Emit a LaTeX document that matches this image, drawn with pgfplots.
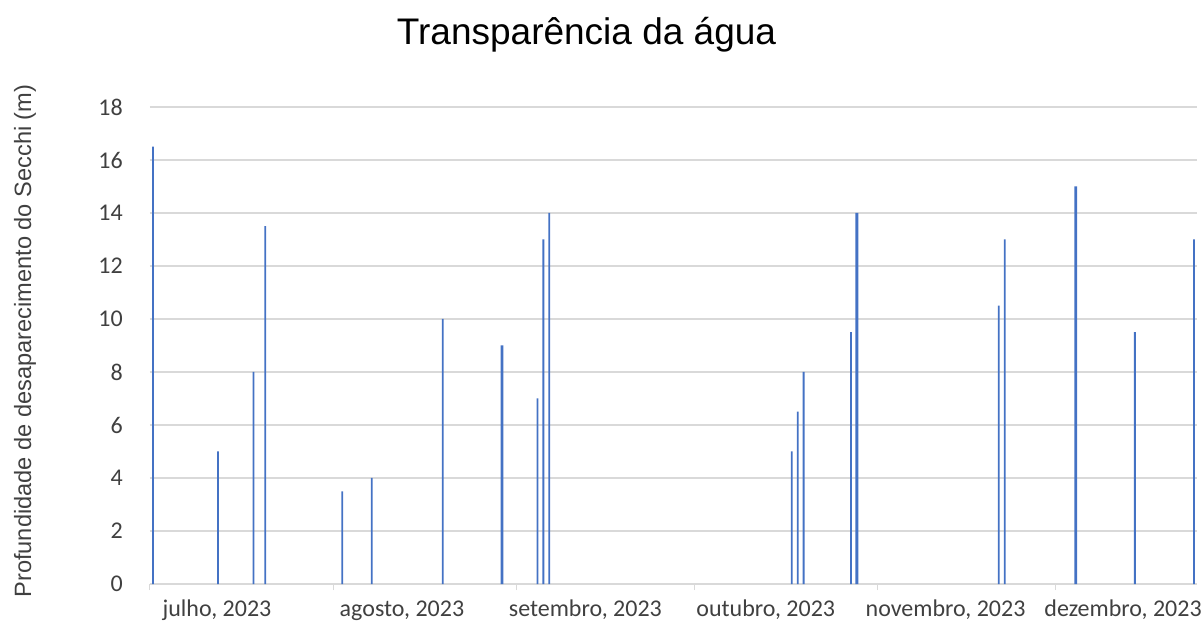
\documentclass[border=0pt]{standalone}
\usepackage{fontspec}
\setmainfont{Carlito}
\newfontfamily\arial{Liberation Sans}
\usepackage{pgfplots}
\pgfplotsset{compat=1.18}
\definecolor{barblue}{HTML}{4472C4}
\definecolor{gridgray}{HTML}{D9D9D9}
\definecolor{txt}{HTML}{404040}

% dias contados a partir de 1 de julho de 2023 (= 0)
\pgfplotstableread{
day val
0   16.5
11  5
17  8
19  13.5
32  3.5
37  4
49  10
65  7
66  13
67  14
108 5
109 6.5
110 8
118 9.5
143 10.5
144 13
166 9.5
176 13
}\thinbars
\pgfplotstableread{
day val
59  9
119 14
156 15
}\thickbars

\begin{document}
\begin{tikzpicture}
\useasboundingbox (-150pt,-37pt) rectangle (1051pt,584pt);
\begin{axis}[
    scale only axis,
    width=1047pt, height=477pt,
    xmin=-0.5, xmax=176.5,
    ymin=0, ymax=18,
    ytick={0,2,...,18},
    xtick={-0.5,30.5,61.5,91.5,122.5,152.5},
    xticklabels={},
    extra x ticks={10.83,42.1,73.1,103.6,134,164},
    extra x tick labels={{julho, 2023},{agosto, 2023},{setembro, 2023},{outubro, 2023},{novembro, 2023},{dezembro, 2023}},
    extra x tick style={major tick length=0pt, grid=none},
    axis lines*=left,
    separate axis lines,
    x axis line style={draw=gridgray, line width=1.2pt},
    y axis line style={draw=none},
    ymajorgrids,
    grid style={draw=gridgray, line width=1.2pt},
    tick align=outside,
    major tick length=6pt,
    xtick style={draw=gridgray, line width=1pt},
    ytick style={draw=none},
    /pgf/number format/assume math mode=true,
    tick label style={font=\fontsize{24}{28}\selectfont, text=txt},
    xticklabel style={anchor=base, yshift=-32pt},
    yticklabel style={anchor=east, inner sep=0pt, xshift=-21pt},
    title={\arial Transparência da água},
    every axis title/.style={at={(axis description cs:0.4169,1)}, anchor=base, yshift=62pt, font=\fontsize{37}{44}\selectfont},
    ylabel={\arial Profundidade de desaparecimento do Secchi (m)},
    every axis y label/.style={at={(axis description cs:-0.1194,0.5094)}, rotate=90, anchor=center, font=\fontsize{23.6}{28}\selectfont, text=txt},
]
\addplot[ybar, bar shift=0pt, bar width=1.8pt, fill=barblue, draw=none] table[x=day, y=val] {\thinbars};
\addplot[ybar, bar shift=0pt, bar width=2.8pt, fill=barblue, draw=none] table[x=day, y=val] {\thickbars};
\end{axis}
\end{tikzpicture}
\end{document}
